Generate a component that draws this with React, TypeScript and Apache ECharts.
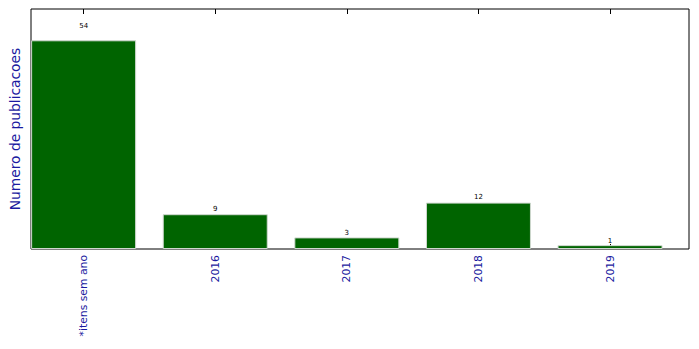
import React, { useEffect, useRef } from "react";
import * as echarts from "echarts";

const categories = ["*itens sem ano", "2016", "2017", "2018", "2019"];
const counts = [54, 9, 3, 12, 1];
const positions = [0, 1, 2, 3, 4];
const yMax = 62.1;

export default function App() {
  const ref = useRef<HTMLDivElement>(null);
  useEffect(() => {
    if (!ref.current) return;
    const chart = echarts.init(ref.current, undefined, { renderer: "svg" });
    const gridTop = 9;
    const gridBottom = 100;
    const plotH = 349 - gridTop - gridBottom;
    const pxPerUnit = plotH / yMax;
    const font = "DejaVu Sans";
    chart.setOption({
      animation: false,
      textStyle: { fontFamily: font },
      grid: {
        left: 30,
        right: 10,
        top: gridTop,
        bottom: gridBottom,
        show: true,
        borderColor: "#000",
        borderWidth: 1,
        backgroundColor: "transparent",
      },
      xAxis: [
        {
          type: "value",
          position: "bottom",
          min: -0.4,
          max: 4.6,
          splitLine: { show: false },
          axisLine: { show: false },
          axisTick: {
            show: true,
            inside: true,
            length: 5,
            customValues: positions,
            lineStyle: { color: "#000" },
          },
          axisLabel: {
            show: true,
            rotate: 90,
            customValues: positions,
            fontSize: 10.8,
            color: "#1a1aa0",
            margin: 6,
            fontFamily: font,
            formatter: (v: number) => categories[Math.round(v)] ?? "",
          },
        },
        {
          type: "value",
          position: "top",
          min: -0.4,
          max: 4.6,
          splitLine: { show: false },
          axisLine: { show: false },
          axisTick: {
            show: true,
            inside: true,
            length: 5,
            customValues: positions,
            lineStyle: { color: "#000" },
          },
          axisLabel: { show: false },
        },
      ],
      yAxis: {
        type: "value",
        min: 0,
        max: yMax,
        splitLine: { show: false },
        axisLine: { show: false },
        axisTick: { show: false },
        axisLabel: { show: false },
        name: "Numero de publicacoes",
        nameLocation: "middle",
        nameGap: 9,
        nameTextStyle: { fontSize: 13.8, color: "#1a1aa0", fontFamily: font },
      },
      series: [
        {
          type: "bar",
          xAxisIndex: 0,
          barWidth: 105,
          itemStyle: { color: "#006400", borderColor: "#d0d8d0", borderWidth: 1 },
          data: counts.map((v, i) => ({
            value: [positions[i], v],
            label: {
              show: true,
              position: "top",
              distance: 0.05 * v * pxPerUnit,
              formatter: String(v),
              fontSize: 7,
              color: "#000",
              fontFamily: font,
            },
          })),
        },
      ],
    });
    return () => chart.dispose();
  }, []);
  return <div ref={ref} style={{ width: 699, height: 349, position: "absolute", left: 0, top: 0 }} />;
}
